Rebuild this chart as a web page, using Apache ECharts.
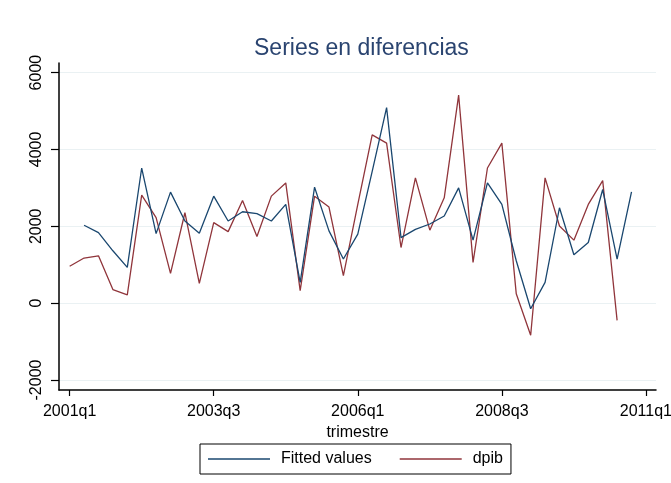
<!DOCTYPE html>
<html>
<head>
<meta charset="utf-8">
<script src="https://cdn.jsdelivr.net/npm/echarts@6/dist/echarts.min.js"></script>
<style>
  html, body { margin: 0; padding: 0; background: #fff; }
  #chart { width: 671px; height: 483px; }
</style>
</head>
<body>
<div id="chart"></div>
<script>
// quarter index 0 = 2001q1
var tickPos = [0, 10, 20, 30, 40];
var tickLabels = ['2001q1', '2003q3', '2006q1', '2008q3', '2011q1'];
var yTicks = [-2000, 0, 2000, 4000, 6000];

// dpib: 2001q1 .. 2010q3
var dpibStart = 0;
var dpib = [960, 1174, 1233, 354, 217, 2811, 2224, 776, 2353, 517,
    2095, 1862, 2673, 1733, 2785, 3129, 328, 2785, 2500, 716,
    2570, 4380, 4164, 1448, 3259, 1900, 2741, 5415, 1060, 3517,
    4164, 243, -835, 3259, 2009, 1640, 2570, 3190, -447];

// fitted values: 2001q2 .. 2010q4
var fittedStart = 1;
var fitted = [2027, 1836, 1363, 931, 3517, 1810, 2889, 2139, 1820, 2785,
    2139, 2379, 2328, 2139, 2570, 543, 3018, 1880, 1148, 1795,
    3432, 5087, 1707, 1920, 2060, 2268, 3000, 1640, 3129, 2570,
    1104, -145, 540, 2483, 1260, 1578, 2957, 1148, 2897];

function toPairs(start, arr) {
    return arr.map(function (v, i) { return [start + i, v]; });
}

var font = '"Liberation Sans", Arial, sans-serif';
var chart = echarts.init(document.getElementById('chart'), null, {renderer: 'canvas'});

chart.setOption({
    animation: false,
    backgroundColor: '#ffffff',
    title: {
        text: 'Series en diferencias',
        left: 249,
        top: 32,
        textStyle: {fontFamily: font, fontSize: 23, fontWeight: 'normal', color: '#2a4470'}
    },
    grid: {left: 59, right: 15, top: 63, bottom: 93, containLabel: false, outerBoundsMode: 'none'},
    legend: {
        left: 200,
        top: 444,
        padding: [7, 8, 7, 8],
        itemGap: 28,
        borderColor: '#000',
        borderWidth: 1,
        icon: 'rect',
        itemWidth: 62,
        itemHeight: 1.5,
        textStyle: {fontFamily: font, fontSize: 16, color: '#000', padding: [0, 0, 0, 6]},
        data: ['Fitted values', 'dpib']
    },
    xAxis: {
        type: 'value',
        min: -0.74,
        max: 40.7,
        name: 'trimestre',
        nameLocation: 'middle',
        nameGap: 27,
        nameTextStyle: {fontFamily: font, fontSize: 16, color: '#000'},
        axisLine: {onZero: false, lineStyle: {color: '#000', width: 1.5}},
        axisTick: {customValues: tickPos, length: 6, lineStyle: {color: '#000', width: 1.2}},
        axisLabel: {
            customValues: tickPos,
            margin: 14,
            fontFamily: font, fontSize: 16, color: '#000',
            formatter: function (v) { return tickLabels[tickPos.indexOf(v)]; }
        },
        splitLine: {show: false}
    },
    yAxis: {
        type: 'value',
        min: -2260,
        max: 6250,
        axisLine: {show: true, onZero: false, lineStyle: {color: '#000', width: 1.5}},
        axisTick: {show: true, customValues: yTicks, length: 8, lineStyle: {color: '#000', width: 1.2}},
        axisLabel: {
            customValues: yTicks,
            rotate: 90,
            margin: 14,
            fontFamily: font, fontSize: 16, color: '#000',
            formatter: function (v) { return String(v); }
        },
        splitLine: {show: false}
    },
    series: [
        {
            name: 'Fitted values',
            type: 'line',
            data: toPairs(fittedStart, fitted),
            showSymbol: false,
            symbol: 'none',
            color: '#1a476f',
            lineStyle: {width: 1.3, color: '#1a476f'},
            markLine: {
                silent: true,
                symbol: 'none',
                label: {show: false},
                lineStyle: {color: '#eaf1f3', width: 1.2, type: 'solid'},
                z: 0,
                data: yTicks.map(function (v) { return {yAxis: v}; })
            },
            z: 3
        },
        {
            name: 'dpib',
            type: 'line',
            data: toPairs(dpibStart, dpib),
            showSymbol: false,
            symbol: 'none',
            color: '#90353b',
            lineStyle: {width: 1.3, color: '#90353b'},
            z: 2
        }
    ]
});
</script>
</body>
</html>
